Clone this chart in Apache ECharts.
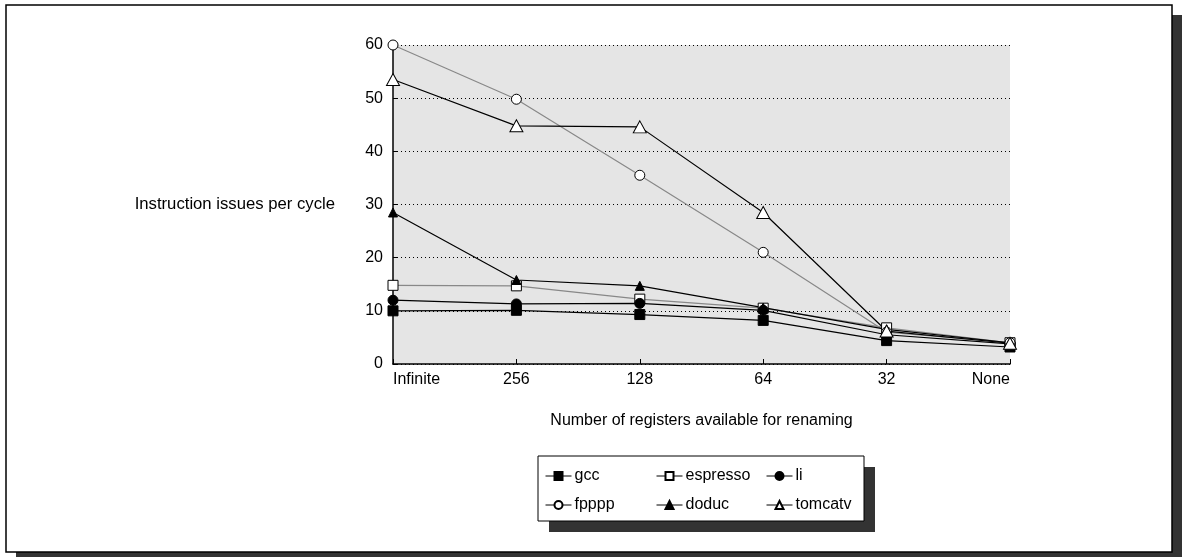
<!DOCTYPE html>
<html><head><meta charset="utf-8">
<script src="https://cdn.jsdelivr.net/npm/echarts@6/dist/echarts.min.js"></script>
<style>html,body{margin:0;padding:0;background:#fff}#c{width:1182px;height:557px}</style>
</head><body><div id="c"></div>
<script>
const categories = ['Infinite', '256', '128', '64', '32', 'None'];
const yTicks = [0, 10, 20, 30, 40, 50, 60];
const gcc = [10, 10.1, 9.3, 8.2, 4.4, 3.2];
const espresso = [14.8, 14.7, 12.2, 10.5, 6.8, 4.0];
const li = [12, 11.3, 11.4, 10.1, 5.5, 3.8];
const fpppp = [60, 49.8, 35.5, 21, 6.0, 4.0];
const doduc = [28.5, 15.8, 14.7, 10.6, 6.5, 4.0];
const tomcatv = [53.5, 44.8, 44.6, 28.5, 6.2, 3.9];

const FONT = '"Liberation Sans", Arial, Helvetica, sans-serif';
const FS = 16;
const chart = echarts.init(document.getElementById('c'), null, {renderer: 'canvas'});

function mk(name, data, symbol, size, fill, lineColor) {
  return {
    name, type: 'line', data, symbol, symbolSize: size,
    lineStyle: {color: lineColor, width: 1.2},
    itemStyle: {color: fill, borderColor: '#000', borderWidth: 1, opacity: 1},
    emphasis: {disabled: true},
    animation: false
  };
}

function legend(left, names) {
  return {
    left, top: 468, orient: 'vertical', itemGap: 13, padding: 0,
    itemWidth: 26, itemHeight: 10, data: names, z: 20,
    lineStyle: {color: '#000', width: 1},
    textStyle: {fontFamily: FONT, fontSize: FS, color: '#000', padding: [0, 0, 0, -2]},
    selectedMode: false
  };
}

chart.setOption({
  animation: false,
  graphic: [
    {type: 'rect', shape: {x: 16, y: 15, width: 1166, height: 542}, style: {fill: '#333'}, z: -10},
    {type: 'rect', shape: {x: 6, y: 5, width: 1166, height: 547}, style: {fill: '#fff', stroke: '#000', lineWidth: 1.5}, z: -9},
    {type: 'rect', shape: {x: 549, y: 467, width: 326, height: 65}, style: {fill: '#333'}, z: 5},
    {type: 'rect', shape: {x: 538, y: 456, width: 326, height: 65}, style: {fill: '#fff', stroke: '#000', lineWidth: 1}, z: 6}
  ],
  legend: [
    legend(545, ['gcc', 'fpppp']),
    legend(656, ['espresso', 'doduc']),
    legend(766, ['li', 'tomcatv'])
  ],
  grid: {left: 393, right: 172, top: 45, bottom: 193, show: true, backgroundColor: '#e5e5e5', borderWidth: 0},
  xAxis: {
    type: 'category', data: categories, boundaryGap: false,
    name: 'Number of registers available for renaming', nameLocation: 'middle', nameGap: 49,
    nameTextStyle: {fontFamily: FONT, fontSize: FS, color: '#000'},
    axisLine: {lineStyle: {color: '#000', width: 1.5}},
    axisTick: {show: true, inside: true, length: 5, alignWithLabel: true, lineStyle: {color: '#000'}},
    axisLabel: {fontFamily: FONT, fontSize: FS, color: '#000', margin: 8, alignMinLabel: 'left', alignMaxLabel: 'right'},
    splitLine: {show: false}
  },
  yAxis: {
    type: 'value', min: yTicks[0], max: yTicks[yTicks.length - 1], interval: 10,
    name: 'Instruction issues per cycle', nameLocation: 'middle', nameRotate: 0, nameGap: 58,
    nameTextStyle: {fontFamily: FONT, fontSize: 16.7, color: '#000', align: 'right'},
    axisLine: {show: true, lineStyle: {color: '#000', width: 1.5}},
    axisTick: {show: true, inside: true, length: 5, lineStyle: {color: '#000'}},
    axisLabel: {fontFamily: FONT, fontSize: FS, color: '#000', margin: 10},
    splitLine: {show: true, lineStyle: {color: '#000', width: 1, type: [1, 3]}}
  },
  series: [
    mk('gcc', gcc, 'rect', 10, '#000', '#000'),
    mk('espresso', espresso, 'rect', 10, '#fff', '#888'),
    mk('li', li, 'circle', 10, '#000', '#000'),
    mk('fpppp', fpppp, 'circle', 10, '#fff', '#888'),
    mk('doduc', doduc, 'triangle', 9, '#000', '#000'),
    mk('tomcatv', tomcatv, 'triangle', [13, 12], '#fff', '#000')
  ]
});
</script></body></html>
